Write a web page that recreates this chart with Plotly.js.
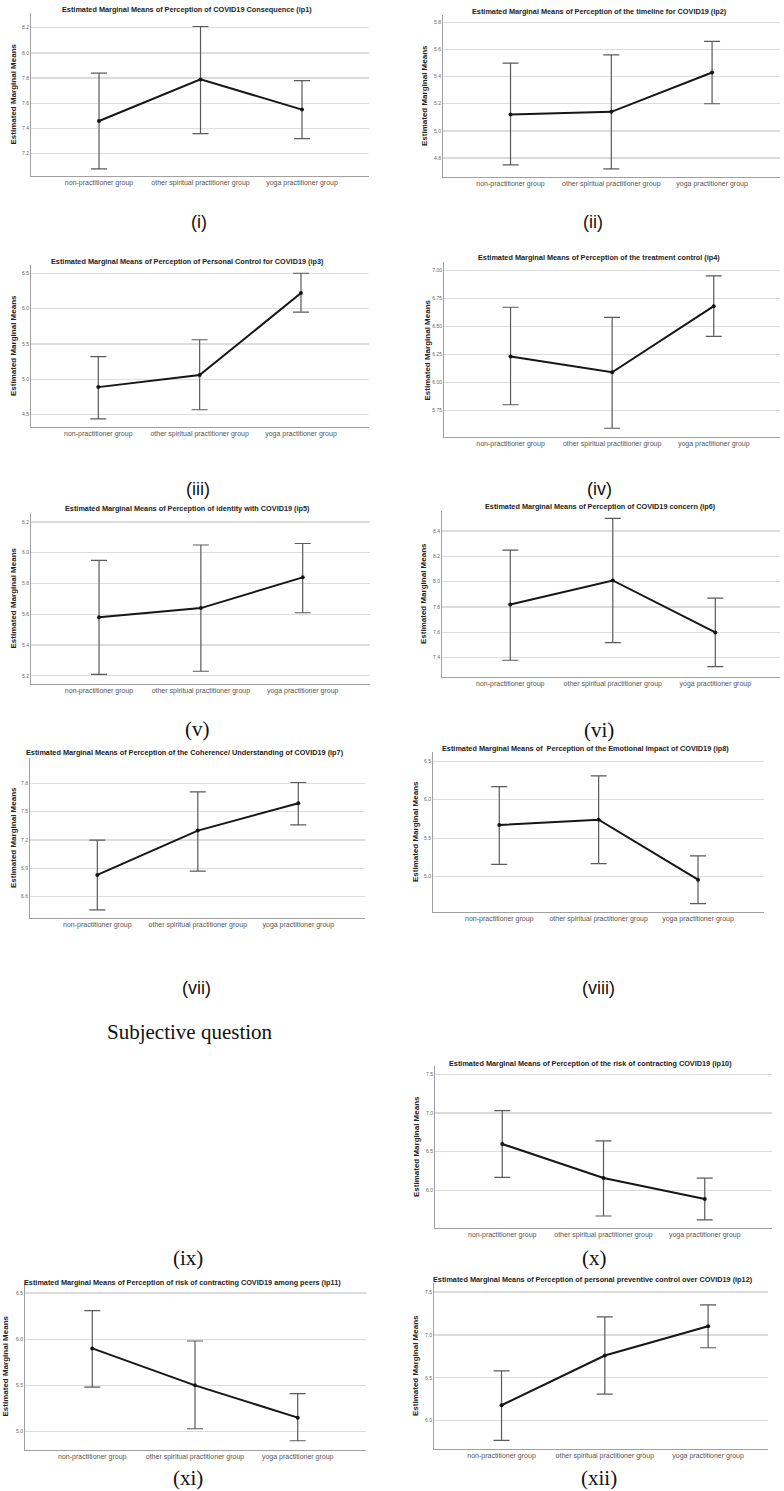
<!DOCTYPE html>
<html>
<head>
<meta charset="utf-8">
<script src="https://cdn.plot.ly/plotly-3.0.1.min.js"></script>
<style>html,body{margin:0;padding:0;background:#fff;}#chart{width:784px;height:1491px;}</style>
</head>
<body>
<div id="chart"></div>
<script>
// ---- data ----
const groups = ['non-practitioner group', 'other spiritual practitioner group', 'yoga practitioner group'];

const titles = [
  'Estimated Marginal Means of Perception of COVID19 Consequence (ip1)',
  'Estimated Marginal Means of Perception of the timeline for COVID19 (ip2)',
  'Estimated Marginal Means of Perception of Personal Control for COVID19 (ip3)',
  'Estimated Marginal Means of Perception of the treatment control (ip4)',
  'Estimated Marginal Means of Perception of identity with COVID19 (ip5)',
  'Estimated Marginal Means of Perception of COVID19 concern (ip6)',
  'Estimated Marginal Means of Perception of the Coherence/ Understanding of COVID19 (ip7)',
  'Estimated Marginal Means of  Perception of the Emotional Impact of COVID19 (ip8)',
  'Estimated Marginal Means of Perception of the risk of contracting COVID19 (ip10)',
  'Estimated Marginal Means of Perception of risk of contracting COVID19 among peers (ip11)',
  'Estimated Marginal Means of Perception of personal preventive control over COVID19 (ip12)'
];

const ip1_mean = [7.46, 7.79, 7.55],  ip1_lo = [7.08, 7.36, 7.32],  ip1_hi = [7.84, 8.21, 7.78];
const ip2_mean = [5.12, 5.14, 5.43],  ip2_lo = [4.75, 4.72, 5.20],  ip2_hi = [5.50, 5.56, 5.66];
const ip3_mean = [4.89, 5.06, 6.22],  ip3_lo = [4.44, 4.57, 5.95],  ip3_hi = [5.32, 5.56, 6.50];
const ip4_mean = [6.23, 6.09, 6.68],  ip4_lo = [5.80, 5.59, 6.41],  ip4_hi = [6.67, 6.58, 6.95];
const ip5_mean = [5.58, 5.64, 5.84],  ip5_lo = [5.21, 5.23, 5.61],  ip5_hi = [5.95, 6.05, 6.06];
const ip6_mean = [7.82, 8.01, 7.60],  ip6_lo = [7.38, 7.52, 7.33],  ip6_hi = [8.25, 8.50, 7.87];
const ip7_mean = [6.83, 7.30, 7.59],  ip7_lo = [6.46, 6.87, 7.36],  ip7_hi = [7.20, 7.71, 7.81];
const ip8_mean = [5.67, 5.74, 4.96],  ip8_lo = [5.16, 5.17, 4.65],  ip8_hi = [6.17, 6.31, 5.27];
const ip10_mean = [6.60, 6.16, 5.89], ip10_lo = [6.17, 5.67, 5.62], ip10_hi = [7.03, 6.64, 6.16];
const ip11_mean = [5.90, 5.50, 5.15], ip11_lo = [5.48, 5.03, 4.90], ip11_hi = [6.31, 5.98, 5.41];
const ip12_mean = [6.18, 6.76, 7.10], ip12_lo = [5.77, 6.31, 6.85], ip12_hi = [6.58, 7.21, 7.35];

const ip1_ticks = [7.2, 7.4, 7.6, 7.8, 8.0, 8.2];
const ip2_ticks = [4.8, 5.0, 5.2, 5.4, 5.6, 5.8];
const ip3_ticks = [4.5, 5.0, 5.5, 6.0, 6.5];
const ip4_ticks = [5.75, 6.00, 6.25, 6.50, 6.75, 7.00];
const ip5_ticks = [5.2, 5.4, 5.6, 5.8, 6.0, 6.2];
const ip6_ticks = [7.4, 7.6, 7.8, 8.0, 8.2, 8.4];
const ip7_ticks = [6.6, 6.9, 7.2, 7.5, 7.8];
const ip8_ticks = [5.0, 5.5, 6.0, 6.5];
const ip10_ticks = [6.0, 6.5, 7.0, 7.5];
const ip11_ticks = [5.0, 5.5, 6.0, 6.5];
const ip12_ticks = [6.0, 6.5, 7.0, 7.5];

const panelLabels = ['(i)', '(ii)', '(iii)', '(iv)', '(v)', '(vi)', '(vii)', '(viii)', '(ix)', '(x)', '(xi)', '(xii)'];
const sectionText = 'Subjective question';

// ---- layout geometry (pixels) ----
const W = 784, H = 1491;
const series = [
  {m: ip1_mean, lo: ip1_lo, hi: ip1_hi, t: ip1_ticks, f: '.1f'},
  {m: ip2_mean, lo: ip2_lo, hi: ip2_hi, t: ip2_ticks, f: '.1f'},
  {m: ip3_mean, lo: ip3_lo, hi: ip3_hi, t: ip3_ticks, f: '.1f'},
  {m: ip4_mean, lo: ip4_lo, hi: ip4_hi, t: ip4_ticks, f: '.2f'},
  {m: ip5_mean, lo: ip5_lo, hi: ip5_hi, t: ip5_ticks, f: '.1f'},
  {m: ip6_mean, lo: ip6_lo, hi: ip6_hi, t: ip6_ticks, f: '.1f'},
  {m: ip7_mean, lo: ip7_lo, hi: ip7_hi, t: ip7_ticks, f: '.1f'},
  {m: ip8_mean, lo: ip8_lo, hi: ip8_hi, t: ip8_ticks, f: '.1f'},
  {m: ip10_mean, lo: ip10_lo, hi: ip10_hi, t: ip10_ticks, f: '.1f'},
  {m: ip11_mean, lo: ip11_lo, hi: ip11_hi, t: ip11_ticks, f: '.1f'},
  {m: ip12_mean, lo: ip12_lo, hi: ip12_hi, t: ip12_ticks, f: '.1f'}
];
// left, right, top, bottom, yrange, xrange, title centre (x,y), y-title x
const geo = [
  {l: 31,  r: 369, t: 13,   b: 176,  yr: [7.023, 8.317], xr: [-0.67, 2.66],  tx: 187, ty: 9,    yx: 13},
  {l: 443, r: 780, t: 15,   b: 177,  yr: [4.66, 5.854],  xr: [-0.67, 2.674], tx: 599, ty: 11,   yx: 425},
  {l: 31,  r: 369, t: 265,  b: 427,  yr: [4.326, 6.617], xr: [-0.664, 2.671],tx: 187, ty: 261,  yx: 13},
  {l: 444, r: 780, t: 262,  b: 437,  yr: [5.512, 7.074], xr: [-0.655, 2.652],tx: 599, ty: 257,  yx: 427},
  {l: 31,  r: 370, t: 513,  b: 684,  yr: [5.147, 6.258], xr: [-0.668, 2.661],tx: 187, ty: 509,  yx: 13},
  {l: 442, r: 780, t: 511,  b: 677,  yr: [7.248, 8.558], xr: [-0.666, 2.631],tx: 600, ty: 506,  yx: 424},
  {l: 30,  r: 365, t: 758,  b: 918,  yr: [6.373, 8.07],  xr: [-0.67, 2.664], tx: 185, ty: 752,  yx: 13},
  {l: 433, r: 764, t: 752,  b: 912,  yr: [4.54, 6.62],   xr: [-0.667, 2.664],tx: 585, ty: 748,  yx: 415},
  {l: 435, r: 772, t: 1066, b: 1228, yr: [5.515, 7.607], xr: [-0.664, 2.664],tx: 590, ty: 1063, yx: 416},
  {l: 25,  r: 366, t: 1283, b: 1450, yr: [4.8, 6.608],   xr: [-0.655, 2.665],tx: 182, ty: 1282, yx: 5},
  {l: 434, r: 768, t: 1283, b: 1449, yr: [5.67, 7.605],  xr: [-0.654, 2.58], tx: 593, ty: 1279, yx: 415}
];
const labelPos = [
  {x: 199, y: 222, serif: false}, {x: 593, y: 222, serif: false},
  {x: 198, y: 489, serif: false}, {x: 599, y: 489, serif: false},
  {x: 198, y: 729, serif: true},  {x: 599, y: 730, serif: true},
  {x: 196, y: 988, serif: false}, {x: 598, y: 988, serif: false},
  {x: 188, y: 1258, serif: true}, {x: 594, y: 1258, serif: true},
  {x: 188, y: 1478, serif: true}, {x: 599, y: 1478, serif: true}
];

const SANS = 'Liberation Sans, Arial, sans-serif';
const NARROW = 'Liberation Sans Narrow, Liberation Sans, Arial, sans-serif';
const SERIF = 'Liberation Serif, Times New Roman, serif';

const px = v => v / W;
const py = v => 1 - v / H;

const traces = [];
const layout = {
  width: W, height: H,
  margin: {l: 0, r: 0, t: 0, b: 0},
  paper_bgcolor: '#ffffff', plot_bgcolor: '#ffffff',
  showlegend: false,
  annotations: []
};

series.forEach((s, i) => {
  const g = geo[i];
  const n = i + 1;
  const xa = n === 1 ? 'x' : 'x' + n;
  const ya = n === 1 ? 'y' : 'y' + n;
  traces.push({
    type: 'scatter', mode: 'lines+markers',
    x: [0, 1, 2], y: s.m,
    xaxis: xa, yaxis: ya,
    line: {color: '#161616', width: 2},
    marker: {size: 4, color: '#161616'},
    error_y: {
      type: 'data', symmetric: false,
      array: s.hi.map((v, k) => v - s.m[k]),
      arrayminus: s.m.map((v, k) => v - s.lo[k]),
      color: '#5a5a5a', thickness: 1.2, width: 8
    },
    hoverinfo: 'skip'
  });
  layout['xaxis' + (n === 1 ? '' : n)] = {
    domain: [px(g.l), px(g.r)], anchor: ya,
    range: g.xr, tickmode: 'array', tickvals: [0, 1, 2], ticktext: groups,
    showgrid: false, zeroline: false, showline: true, linecolor: '#a0a0a0', linewidth: 1,
    ticks: '', tickfont: {family: NARROW, size: 7, color: '#555555'}, fixedrange: true
  };
  layout['yaxis' + (n === 1 ? '' : n)] = {
    domain: [py(g.b), py(g.t)], anchor: xa,
    range: g.yr, tickmode: 'array', tickvals: s.t, tickformat: s.f,
    showgrid: true, gridcolor: '#dcdcdc', gridwidth: 1.3,
    zeroline: false, showline: true, linecolor: '#a0a0a0', linewidth: 1,
    ticks: '', tickfont: {family: SANS, size: 5, color: '#666666'}, fixedrange: true
  };
  layout.annotations.push({
    xref: 'paper', yref: 'paper', x: px(g.tx), y: py(g.ty),
    xanchor: 'center', yanchor: 'middle', showarrow: false,
    text: '<b>' + titles[i] + '</b>',
    font: {family: NARROW, size: 7.3, color: '#222222'}
  });
  layout.annotations.push({
    xref: 'paper', yref: 'paper', x: px(g.yx), y: py((g.t + g.b) / 2),
    xanchor: 'center', yanchor: 'middle', showarrow: false, textangle: -90,
    text: '<b>Estimated Marginal Means</b>',
    font: {family: SANS, size: 8, color: '#222222'}
  });
});

panelLabels.forEach((t, i) => {
  const p = labelPos[i];
  layout.annotations.push({
    xref: 'paper', yref: 'paper', x: px(p.x), y: py(p.y),
    xanchor: 'center', yanchor: 'middle', showarrow: false, text: t,
    font: {family: p.serif ? SERIF : SANS, size: p.serif ? 21 : 18, color: '#111111'}
  });
});
layout.annotations.push({
  xref: 'paper', yref: 'paper', x: px(190), y: py(1032),
  xanchor: 'center', yanchor: 'middle', showarrow: false, text: sectionText,
  font: {family: SERIF, size: 21, color: '#111111'}
});

Plotly.newPlot('chart', traces, layout, {staticPlot: true, displayModeBar: false});
</script>
</body>
</html>
